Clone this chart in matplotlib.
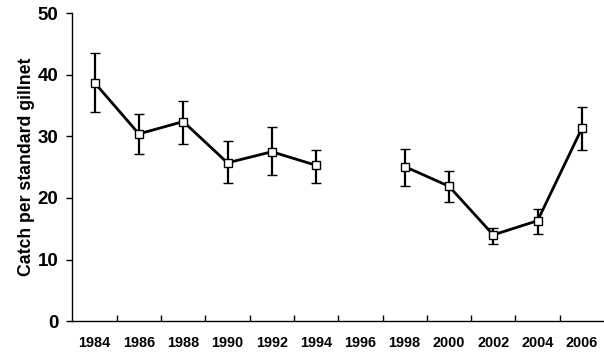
import numpy as np
from matplotlib import pyplot as plt

""" =======================  Data  ========================== """
years = ['1984', '1986', '1988', '1990', '1992', '1994', '1996',
         '1998', '2000', '2002', '2004', '2006']
catch = [38.7, 30.4, 32.4, 25.7, 27.5, 25.3, np.nan,
         25.1, 21.9, 14.0, 16.3, 31.3]
err_low = [4.7, 3.3, 3.7, 3.2, 3.8, 2.8, np.nan,
           3.1, 2.6, 1.4, 2.2, 3.5]
err_high = [4.8, 3.3, 3.4, 3.5, 4.0, 2.5, np.nan,
            2.9, 2.5, 1.1, 1.9, 3.4]

""" =======================  Plot  ========================== """
plt.rcParams['font.family'] = ['Liberation Sans', 'DejaVu Sans']
plt.rcParams['font.weight'] = 'bold'

fig = plt.figure(figsize=(6.04, 3.56), dpi=100)
ax = fig.add_axes([0.12, 0.098, 0.88, 0.865])

x = np.arange(len(years))
ax.errorbar(x, catch, yerr=[err_low, err_high], color='black', lw=2,
            elinewidth=1.6, capsize=3.5, capthick=1.6,
            marker='s', markersize=6, markerfacecolor='white',
            markeredgecolor='black', markeredgewidth=1, zorder=3)

ax.set_xlim(-0.5, len(years) - 0.5)
ax.set_ylim(0, 50)
ax.set_yticks(np.arange(0, 51, 10))
ax.set_xticks(x)
ax.set_xticklabels(years, fontsize=10.4, fontweight='bold')
ax.set_xticks(np.arange(0.5, len(years) - 1, 1), minor=True)
ax.tick_params(axis='x', which='major', length=0, pad=11)
ax.tick_params(axis='x', which='minor', direction='in', length=4, width=1)
ax.tick_params(axis='y', direction='out', length=4, width=1, labelsize=13.5, pad=6)
for lab in ax.get_yticklabels():
    lab.set_fontweight('bold')

ax.spines['top'].set_visible(False)
ax.spines['right'].set_visible(False)
ax.spines['left'].set_linewidth(1)
ax.spines['bottom'].set_linewidth(1)

ax.set_ylabel('Catch per standard gillnet', fontsize=12.7, fontweight='bold', labelpad=2)

fig.savefig('out.png', dpi=100)
